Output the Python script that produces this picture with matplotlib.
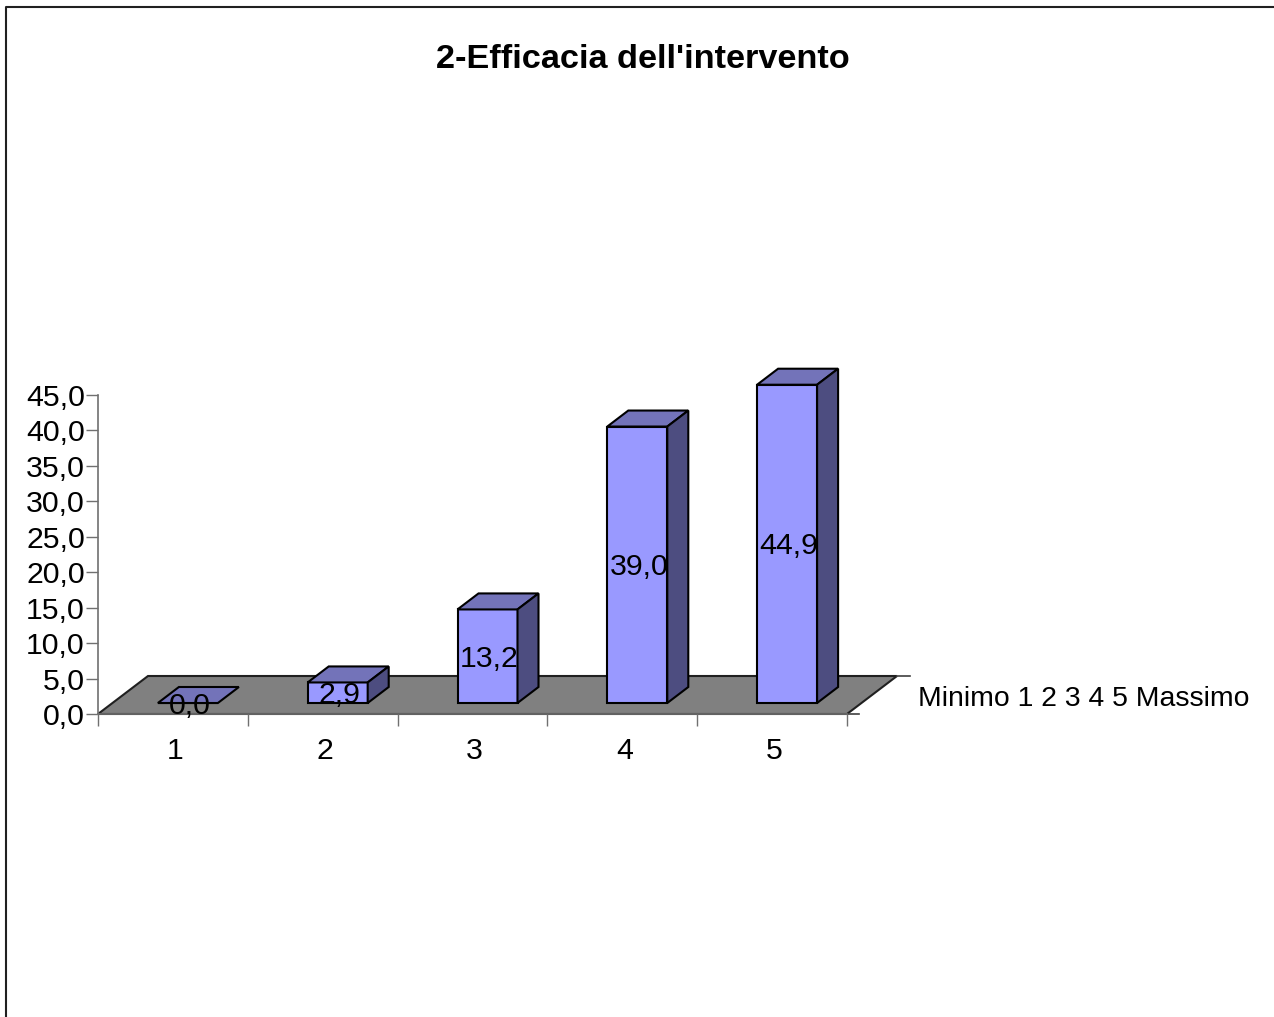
import numpy as np
import matplotlib
matplotlib.use("Agg")
import matplotlib.pyplot as plt
from matplotlib.lines import Line2D
from matplotlib.transforms import ScaledTranslation

plt.rcParams['font.family'] = ['Liberation Sans', 'DejaVu Sans']

title = "2-Efficacia dell'intervento"
note = "Minimo 1 2 3 4 5 Massimo"
categories = [1, 2, 3, 4, 5]
values = [0.0, 2.9, 13.2, 39.0, 44.9]
y_ticks = [0, 5, 10, 15, 20, 25, 30, 35, 40, 45]

W, H = 1274, 1017
fig = plt.figure(figsize=(W / 100, H / 100), dpi=100)
ax = fig.add_axes([98 / W, (H - 714) / H, 749 / W, 319 / H])
ax.set_xlim(0.5, 5.5)
ax.set_ylim(0, 45)
ax.patch.set_visible(False)

# fake 3d: depth is given in data units
px_x = 5 / 749   # one pixel in category units
px_y = 45 / 319  # one pixel in value units
floor_dx, floor_dy = 50 * px_x, 38 * px_y
bar_dx, bar_dy = 21 * px_x, 16 * px_y
bar_w = 60 * px_x
bar_shift = 15 * px_x
base = 11 * px_y

ax.fill([0.5, 5.5, 5.5 + floor_dx, 0.5 + floor_dx],
        [0, 0, floor_dy, floor_dy],
        facecolor="#808080", edgecolor="#202020", lw=1.5, clip_on=False, zorder=1)
ax.plot([5.5 + floor_dx, 5.5 + floor_dx + 13 * px_x], [floor_dy, floor_dy],
        color="#404040", lw=1.2, clip_on=False, zorder=1)
ax.plot([5.5, 5.5 + 12 * px_x], [0, 0], color="#404040", lw=1.2, clip_on=False, zorder=1)

for c, v in zip(categories, values):
    x0 = c + bar_shift - bar_w / 2
    x1 = x0 + bar_w
    top = base + v
    ax.bar(c + bar_shift, v, bar_w, bottom=base, color="#9999FF", edgecolor="black",
           lw=1.5, clip_on=False, zorder=3)
    ax.fill([x0, x1, x1 + bar_dx, x0 + bar_dx], [top, top, top + bar_dy, top + bar_dy],
            facecolor="#7373B9", edgecolor="black", lw=1.5, clip_on=False, zorder=3)
    if v > 0:
        ax.fill([x1, x1 + bar_dx, x1 + bar_dx, x1],
                [base, base + bar_dy, top + bar_dy, top],
                facecolor="#4D4D80", edgecolor="black", lw=1.5, clip_on=False, zorder=3)
    ax.text(c + bar_shift + 1.5 * px_x, base + v / 2 - 2.5 * px_y, f"{v:.1f}".replace(".", ","),
            ha="center", va="center", fontsize=21.8, color="black", zorder=4)

for s in ["top", "right"]:
    ax.spines[s].set_visible(False)
for s in ["left", "bottom"]:
    ax.spines[s].set_color("#707070")
    ax.spines[s].set_linewidth(1.2)
ax.spines["bottom"].set_zorder(2)

ax.set_yticks(y_ticks)
ax.set_yticklabels([f"{t:.1f}".replace(".", ",") for t in y_ticks], fontsize=21.8)
ax.tick_params(axis="y", length=8.5, width=1.0, color="#707070", pad=1)

# ticks between the categories, labels in the middle
ax.set_xticks(np.arange(0.5, 6, 1))
ax.set_xticklabels([])
ax.set_xticks(categories, minor=True)
ax.set_xticklabels([str(c) for c in categories], minor=True, fontsize=21.8)
ax.tick_params(axis="x", which="major", length=8.5, width=1.0, color="#707070")
ax.tick_params(axis="x", which="minor", length=0, pad=16.5)
nudge = ScaledTranslation(2 / 100, 0, fig.dpi_scale_trans)
for lab in ax.get_xticklabels(minor=True):
    lab.set_transform(lab.get_transform() + nudge)

fig.text(643 / W, 1 - 59 / H, title, ha="center", va="center",
         fontsize=24.7, fontweight="bold")
fig.text(918 / W, 1 - 699 / H, note, ha="left", va="center", fontsize=20.4)

# chart frame, cut off at right and bottom
fig.add_artist(Line2D([6 / W, 6 / W, 1], [0, 1 - 7 / H, 1 - 7 / H], color="#202020", lw=1.5))

fig.savefig("out.png", dpi=100)
